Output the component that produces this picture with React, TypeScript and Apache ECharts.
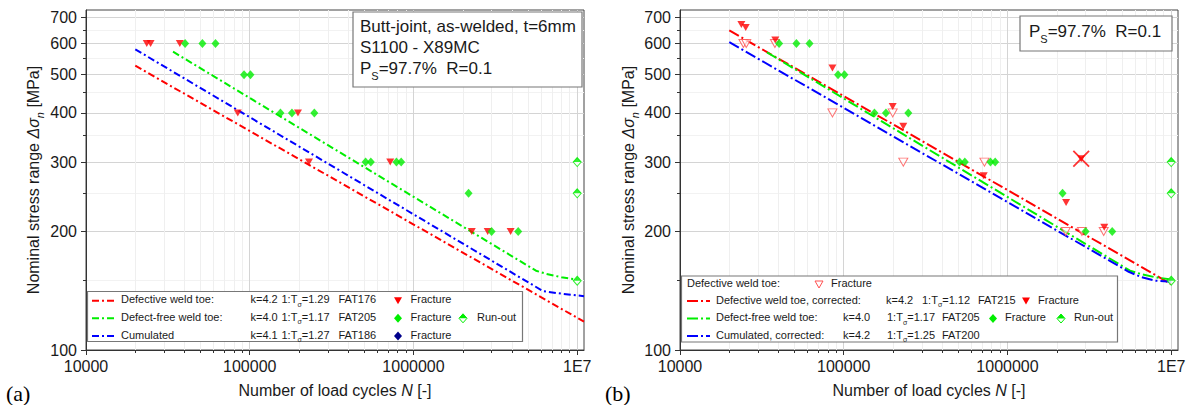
import React, { useEffect, useRef } from "react";
import * as echarts from "echarts";

// ---------------- ticks ----------------
const xTickValues = [10000, 100000, 1000000, 10000000];
const xTickLabels = ["10000", "100000", "1000000", "1E7"];
const xMinorValues = [
  20000, 30000, 40000, 50000, 60000, 70000, 80000, 90000,
  200000, 300000, 400000, 500000, 600000, 700000, 800000, 900000,
  2000000, 3000000, 4000000, 5000000, 6000000, 7000000, 8000000, 9000000,
];
const yTickValues = [100, 200, 300, 400, 500, 600, 700];
const yMinorValues = [150, 250, 350, 450, 550, 650];

// ---------------- chart (a) ----------------
const aDefectiveN = [23500, 24800, 37400, 84500, 197000, 230000, 721000, 2270000, 2840000, 3920000];
const aDefectiveS = [600, 600, 600, 400, 400, 300, 300, 200, 200, 200];
const freeN = [40300, 51400, 61800, 92300, 101000, 154000, 181000, 248000, 510000, 549000, 787000, 841000, 2170000, 3000000, 4360000];
const freeS = [600, 600, 600, 500, 500, 400, 400, 400, 300, 300, 300, 300, 250, 200, 200];
const runoutN = [10000000, 10000000, 10000000];
const runoutS = [300, 250, 150];
const aDefLineN = [20000, 11000000];
const aDefLineS = [527, 118];
const aFreeLineN = [34000, 5600000, 6500000, 8000000, 10000000];
const aFreeLineS = [572, 159, 156, 153, 151];
const aCumLineN = [20000, 6200000, 8000000, 11000000];
const aCumLineS = [580, 141, 139, 137];

// ---------------- chart (b) ----------------
const bDefOrigN = [24400, 25400, 38000, 85300, 199000, 231000, 723000, 2270000, 2850000, 3870000];
const bDefOrigS = [600, 600, 600, 400, 400, 300, 300, 200, 200, 200];
const bDefCorrN = [23700, 25200, 38200, 85300, 199000, 231000, 716000, 2280000, 2820000, 3900000];
const bDefCorrS = [671, 659, 613, 520, 415, 370, 277, 237, 306, 205];
const bOutlierN = [2820000];
const bOutlierS = [306];
const bDefLineN = [20000, 10000000];
const bDefLineS = [648, 147];
const bFreeLineN = [34000, 5600000, 6500000, 8000000, 10000000];
const bFreeLineS = [570, 159, 156, 153, 151];
const bCumLineN = [20000, 5500000, 6600000, 8000000, 10000000];
const bCumLineS = [605, 158, 153, 150, 149];

// ---------------- styles ----------------
const FONT = "'Liberation Sans', Arial, Helvetica, sans-serif";
const SERIF = "'Liberation Serif', 'Times New Roman', serif";
const INK = "#1a1a1a";
const RED = "#ff0000";
const GREEN = "#00ee00";
const BLUE = "#0000ff";
const NAVY = "#00008b";
const OPENRED = "#ff5050";

const zip = (n: number[], s: number[]) => n.map((v, i) => [v, s[i]]);

const fmtX = (v: number) => {
  const i = xTickValues.findIndex((t) => Math.abs(t - v) / t < 1e-6);
  return i >= 0 ? xTickLabels[i] : "";
};

function axes(grid: number, yNameGap: number) {
  const xs = [
    {
      type: "log", gridIndex: grid, min: 10000, max: 11000000, position: "bottom",
      axisLine: { show: true, onZero: false, lineStyle: { color: "#333", width: 1 } },
      axisTick: { show: true, inside: false, length: 5, customValues: xTickValues, lineStyle: { color: "#333" } },
      axisLabel: { show: true, customValues: xTickValues, formatter: fmtX, fontSize: 16, color: INK, fontFamily: FONT, margin: 8 },
      splitLine: { show: true, lineStyle: { color: "#d4d4d4", width: 1 } },
      minorTick: { show: false }, minorSplitLine: { show: false },
      name: "{t|Number of load cycles }{i|N}{t| [-]}",
      nameLocation: "middle", nameGap: 32,
      nameTextStyle: {
        rich: {
          t: { fontSize: 16, fontFamily: FONT, color: INK },
          i: { fontSize: 16, fontFamily: FONT, color: INK, fontStyle: "italic" },
        },
      },
    },
    {
      type: "log", gridIndex: grid, min: 10000, max: 11000000, position: "bottom",
      axisLine: { show: false }, axisLabel: { show: false },
      axisTick: { show: true, inside: false, length: 3, customValues: xMinorValues, lineStyle: { color: "#333" } },
      splitLine: { show: true, lineStyle: { color: "#efefef", width: 1 } },
      minorTick: { show: false }, minorSplitLine: { show: false },
    },
  ];
  const ys = [
    {
      type: "log", gridIndex: grid, min: 100, max: 730, position: "left",
      axisLine: { show: true, onZero: false, lineStyle: { color: "#333", width: 1 } },
      axisTick: { show: true, inside: false, length: 5, customValues: yTickValues, lineStyle: { color: "#333" } },
      axisLabel: { show: true, customValues: yTickValues, formatter: (v: number) => String(Math.round(v)), fontSize: 16, color: INK, fontFamily: FONT, margin: 9 },
      splitLine: { show: true, lineStyle: { color: "#d4d4d4", width: 1 } },
      minorTick: { show: false }, minorSplitLine: { show: false },
      name: "{t|Nominal stress range }{i|Δσ}{s|n}{t| [MPa]}",
      nameLocation: "middle", nameGap: yNameGap, nameRotate: 90,
      nameTextStyle: {
        rich: {
          t: { fontSize: 16, fontFamily: FONT, color: INK, lineHeight: 20, verticalAlign: "top" },
          i: { fontSize: 16, fontFamily: FONT, color: INK, fontStyle: "italic", lineHeight: 20, verticalAlign: "top" },
          s: { fontSize: 11, fontFamily: FONT, color: INK, fontStyle: "italic", lineHeight: 10, verticalAlign: "bottom" },
        },
      },
    },
    {
      type: "log", gridIndex: grid, min: 100, max: 730, position: "left",
      axisLine: { show: false }, axisLabel: { show: false },
      axisTick: { show: true, inside: false, length: 3, customValues: yMinorValues, lineStyle: { color: "#333" } },
      splitLine: { show: true, lineStyle: { color: "#f2f2f2", width: 1 } },
      minorTick: { show: false }, minorSplitLine: { show: false },
    },
  ];
  return { xs, ys };
}

function lineSeries(name: string, n: number[], s: number[], color: string, dash: number[], xi: number) {
  return {
    name, type: "line", xAxisIndex: xi, yAxisIndex: xi, data: zip(n, s),
    showSymbol: false, symbol: "none", silent: true, z: 3,
    lineStyle: { color, width: 2, type: dash },
  };
}

function scatter(name: string, n: number[], s: number[], xi: number, extra: any) {
  return { name, type: "scatter", xAxisIndex: xi, yAxisIndex: xi, data: zip(n, s), z: 5, silent: true, ...extra };
}

const triDown = { symbol: "triangle", symbolRotate: 180, symbolSize: [8, 7] };
const diamond = { symbol: "diamond", symbolSize: [8, 9] };
const halfTop = "path://M0,10L10,0L20,10Z";
const xMark = "path://M0,1.5L1.5,0L10,8.5L18.5,0L20,1.5L11.5,10L20,18.5L18.5,20L10,11.5L1.5,20L0,18.5L8.5,10Z";

function runoutSeries(xi: number) {
  return [
    scatter("Run-out", runoutN, runoutS, xi, { ...diamond, itemStyle: { color: "#ffffff", borderColor: GREEN, borderWidth: 1 } }),
    scatter("Run-out top", runoutN, runoutS, xi, { symbol: halfTop, symbolSize: [8, 4.5], symbolOffset: [0, -2.25], itemStyle: { color: GREEN }, z: 6 }),
  ];
}

// ---------------- graphic helpers (legend boxes) ----------------
const SUBRICH = (size: number, lh: number) => ({
  t: { fontSize: size, fontFamily: FONT, fill: INK, lineHeight: lh, verticalAlign: "top" },
  s: { fontSize: Math.round(size * 0.62), fontFamily: FONT, fill: INK, lineHeight: Math.round(lh * 0.45), verticalAlign: "bottom" },
});

function txt(x: number, y: number, text: string, size = 11) {
  return {
    type: "text", z: 20, silent: true,
    style: { x, y, text, fill: INK, fontSize: size, fontFamily: FONT, verticalAlign: "middle", align: "left", rich: SUBRICH(size, Math.round(size * 1.3)) },
  };
}
function sample(x1: number, x2: number, y: number, color: string, dash: number[]) {
  return { type: "polyline", z: 20, silent: true, shape: { points: [[x1, y], [x2, y]] }, style: { stroke: color, lineWidth: 2, lineDash: dash } };
}
function triMark(cx: number, cy: number, fill: string, stroke?: string) {
  return {
    type: "polygon", z: 20, silent: true,
    shape: { points: [[cx - 4, cy - 3.5], [cx + 4, cy - 3.5], [cx, cy + 3.5]] },
    style: stroke ? { fill, stroke, lineWidth: 1 } : { fill },
  };
}
function diaMark(cx: number, cy: number, fill: string) {
  return { type: "polygon", z: 20, silent: true, shape: { points: [[cx, cy - 4.5], [cx + 4, cy], [cx, cy + 4.5], [cx - 4, cy]] }, style: { fill } };
}
function runMark(cx: number, cy: number) {
  return [
    { type: "polygon", z: 20, silent: true, shape: { points: [[cx, cy - 4.5], [cx + 4, cy], [cx, cy + 4.5], [cx - 4, cy]] }, style: { fill: "#fff", stroke: GREEN, lineWidth: 1 } },
    { type: "polygon", z: 21, silent: true, shape: { points: [[cx - 4, cy], [cx, cy - 4.5], [cx + 4, cy]] }, style: { fill: GREEN } },
  ];
}
function box(x: number, y: number, w: number, h: number) {
  return { type: "rect", z: 1, silent: true, shape: { x, y, width: w, height: h }, style: { fill: "#ffffff", stroke: "#777", lineWidth: 1.2 } };
}

function buildGraphics() {
  const dA = [7, 3, 2, 3];
  const dB = [11, 3, 2, 3];
  const rA = [300.7, 318.3, 336];
  const rB = [284.5, 301, 318.5, 336];
  const g: any[] = [];
  // (a) info box
  g.push(box(353, 12, 229, 75));
  g.push(txt(360, 28.5, "{t|Butt-joint, as-welded, t=6mm}", 17));
  g.push(txt(360, 49.5, "{t|S1100 - X89MC}", 17));
  g.push(txt(360, 70.5, "{t|P}{s|S}{t|=97.7%  R=0.1}", 17));
  // (a) legend
  g.push(box(87.5, 291.5, 435, 50));
  g.push(sample(92, 117, rA[0], RED, dA), txt(121, rA[0], "{t|Defective weld toe:}"), txt(250.5, rA[0], "{t|k=4.2}"),
    txt(281.5, rA[0], "{t|1:T}{s|σ}{t|=1.29}"), txt(338.5, rA[0], "{t|FAT176}"), triMark(398, rA[0], RED), txt(410.5, rA[0], "{t|Fracture}"));
  g.push(sample(92, 117, rA[1], GREEN, dA), txt(121, rA[1], "{t|Defect-free weld toe:}"), txt(250.5, rA[1], "{t|k=4.0}"),
    txt(281.5, rA[1], "{t|1:T}{s|σ}{t|=1.17}"), txt(338.5, rA[1], "{t|FAT205}"), diaMark(398, rA[1], GREEN), txt(410.5, rA[1], "{t|Fracture}"),
    ...runMark(463, rA[1]), txt(477, rA[1], "{t|Run-out}"));
  g.push(sample(92, 117, rA[2], BLUE, dA), txt(121, rA[2], "{t|Cumulated}"), txt(250.5, rA[2], "{t|k=4.1}"),
    txt(281.5, rA[2], "{t|1:T}{s|σ}{t|=1.27}"), txt(338.5, rA[2], "{t|FAT186}"), diaMark(398, rA[2], NAVY), txt(410.5, rA[2], "{t|Fracture}"));
  // (b) info box
  g.push(box(1020, 16, 152, 35));
  g.push(txt(1029, 33.5, "{t|P}{s|S}{t|=97.7%  R=0.1}", 17));
  // (b) legend
  g.push(box(681.5, 276, 436, 66));
  g.push(txt(687, rB[0], "{t|Defective weld toe:}"), triMark(819, rB[0], "#ffffff", OPENRED), txt(831, rB[0], "{t|Fracture}"));
  g.push(sample(687, 710, rB[1], RED, dB), txt(716, rB[1], "{t|Defective weld toe, corrected:}"), txt(886, rB[1], "{t|k=4.2}"),
    txt(922, rB[1], "{t|1:T}{s|σ}{t|=1.12}"), txt(978, rB[1], "{t|FAT215}"), triMark(1026, rB[1], RED), txt(1038, rB[1], "{t|Fracture}"));
  g.push(sample(687, 710, rB[2], GREEN, dB), txt(716, rB[2], "{t|Defect-free weld toe:}"), txt(843, rB[2], "{t|k=4.0}"),
    txt(887, rB[2], "{t|1:T}{s|σ}{t|=1.17}"), txt(942, rB[2], "{t|FAT205}"), diaMark(993, rB[2], GREEN), txt(1005, rB[2], "{t|Fracture}"),
    ...runMark(1061, rB[2]), txt(1074, rB[2], "{t|Run-out}"));
  g.push(sample(687, 710, rB[3], BLUE, dB), txt(716, rB[3], "{t|Cumulated, corrected:}"), txt(843, rB[3], "{t|k=4.2}"),
    txt(887, rB[3], "{t|1:T}{s|σ}{t|=1.25}"), txt(942, rB[3], "{t|FAT200}"));
  // panel letters
  g.push({ type: "text", z: 20, silent: true, style: { x: 6, y: 393, text: "(a)", fill: "#000", fontSize: 22, fontFamily: SERIF, verticalAlign: "middle" } });
  g.push({ type: "text", z: 20, silent: true, style: { x: 605, y: 393, text: "(b)", fill: "#000", fontSize: 22, fontFamily: SERIF, verticalAlign: "middle" } });
  return g;
}

export default function App() {
  const ref = useRef<HTMLDivElement>(null);
  useEffect(() => {
    document.body.style.margin = "0";
    if (!ref.current) return;
    const chart = echarts.init(ref.current, undefined, { renderer: "svg" });
    const a = axes(0, 41);
    const b = axes(1, 38);
    const dA = [7, 3, 2, 3];
    const dB = [11, 3, 2, 3];
    const option: any = {
      animation: false,
      backgroundColor: "#ffffff",
      textStyle: { fontFamily: FONT },
      grid: [
        { left: 86, top: 10, width: 498, height: 340, show: true, borderColor: "#444", borderWidth: 1, backgroundColor: "transparent", containLabel: false, outerBoundsMode: "none" },
        { left: 680, top: 10, width: 498, height: 340, show: true, borderColor: "#444", borderWidth: 1, backgroundColor: "transparent", containLabel: false, outerBoundsMode: "none" },
      ],
      xAxis: [...a.xs, ...b.xs],
      yAxis: [...a.ys, ...b.ys],
      series: [
        lineSeries("Defective weld toe", aDefLineN, aDefLineS, RED, dA, 0),
        lineSeries("Defect-free weld toe", aFreeLineN, aFreeLineS, GREEN, dA, 0),
        lineSeries("Cumulated", aCumLineN, aCumLineS, BLUE, dA, 0),
        scatter("Defective fracture", aDefectiveN, aDefectiveS, 0, { ...triDown, itemStyle: { color: RED } }),
        scatter("Defect-free fracture", freeN, freeS, 0, { ...diamond, itemStyle: { color: GREEN } }),
        ...runoutSeries(0),

        lineSeries("Defective weld toe, corrected", bDefLineN, bDefLineS, RED, dB, 2),
        lineSeries("Defect-free weld toe (b)", bFreeLineN, bFreeLineS, GREEN, dB, 2),
        lineSeries("Cumulated, corrected", bCumLineN, bCumLineS, BLUE, dB, 2),
        scatter("Defective fracture (uncorrected)", bDefOrigN, bDefOrigS, 2, { ...triDown, symbolSize: [9, 8], itemStyle: { color: "rgba(255,255,255,0.7)", borderColor: OPENRED, borderWidth: 1 } }),
        scatter("Defective fracture, corrected", bDefCorrN, bDefCorrS, 2, { ...triDown, itemStyle: { color: RED } }),
        scatter("Defect-free fracture (b)", freeN, freeS, 2, { ...diamond, itemStyle: { color: GREEN } }),
        ...runoutSeries(2),
        scatter("Outlier", bOutlierN, bOutlierS, 2, { symbol: xMark, symbolSize: 17, itemStyle: { color: RED }, z: 7 }),
      ],
      graphic: buildGraphics(),
    };
    chart.setOption(option);
    return () => chart.dispose();
  }, []);
  return <div ref={ref} style={{ width: 1195, height: 405 }} />;
}
